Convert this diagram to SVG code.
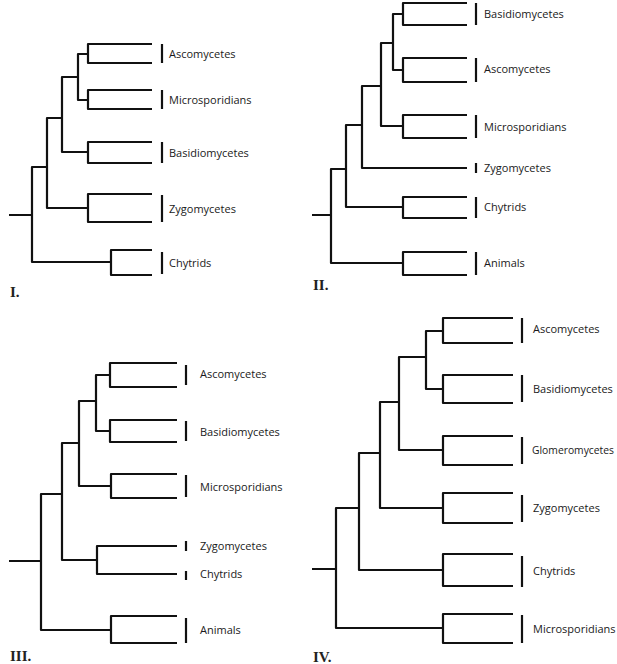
<svg xmlns="http://www.w3.org/2000/svg" width="617" height="664" viewBox="0 0 617 664">
<style>
.e{fill:none;stroke:#111;stroke-width:2.2;stroke-linejoin:round;stroke-linecap:butt}
.b{stroke:#111;stroke-width:2.2}
.t{font-family:"Open Sans","Liberation Sans",sans-serif;font-size:11px;fill:#1a1a1a}
.p{font-family:"Liberation Serif",serif;font-size:15px;font-weight:bold;fill:#222}
</style>
<rect width="617" height="664" fill="#fff"/>
<g id="edges">
<path class="e" d="M152,44H88V63H152M152,90H88V109H152M88,54H78V100H88M152,142H88V163H152M78,77H62V152H88M152,194H88V222H152M62,118H47V208H88M152,250H111V275H152M47,167H32V262H111M9,215H32"/>
<path class="e" d="M467,3H403V25H467M467,58H403V82H467M403,14H393V70H403M467,115H403V138H467M393,43H381V126H403M381,86H362V168H467M467,197H403V218H467M362,125H346V207H403M467,252H403V275H467M346,169H331V263H403M312,215H331"/>
<path class="e" d="M177,363H110V387H177M177,420H110V442H177M110,375H96V431H110M177,474H111V498H177M96,401H79V486H111M177,546H97V574H177M79,443H62V560H97M177,616H111V643H177M62,494H41V630H111M9,561H41"/>
<path class="e" d="M513,318H443V343H513M513,375H443V403H513M443,331H426V389H443M513,436H443V465H513M426,357H399V450H443M513,493H443V523H513M399,402H380V508H443M513,554H443V586H513M380,453H359V570H443M513,614H443V643H513M359,508H336V628H443M312,569H336"/>
</g>
<g id="panel1">
<g id="I-asco"><line class="b" x1="162" y1="44" x2="162" y2="63"/><text class="t" x="169" y="58">Ascomycetes</text></g>
<g id="I-micro"><line class="b" x1="162" y1="90" x2="162" y2="109"/><text class="t" x="169" y="104">Microsporidians</text></g>
<g id="I-basid"><line class="b" x1="162" y1="142" x2="162" y2="163"/><text class="t" x="169" y="157">Basidiomycetes</text></g>
<g id="I-zygo"><line class="b" x1="162" y1="195" x2="162" y2="222"/><text class="t" x="169" y="213">Zygomycetes</text></g>
<g id="I-chyt"><line class="b" x1="162" y1="252" x2="162" y2="274"/><text class="t" x="169" y="267">Chytrids</text></g>
<text class="p" x="10" y="297">I.</text>
</g>
<g id="panel2">
<g id="II-basid"><line class="b" x1="476" y1="3" x2="476" y2="25"/><text class="t" x="484" y="18">Basidiomycetes</text></g>
<g id="II-asco"><line class="b" x1="476" y1="58" x2="476" y2="82"/><text class="t" x="484" y="73">Ascomycetes</text></g>
<g id="II-micro"><line class="b" x1="476" y1="115" x2="476" y2="138"/><text class="t" x="484" y="131">Microsporidians</text></g>
<g id="II-zygo"><line class="b" x1="476" y1="163" x2="476" y2="173"/><text class="t" x="484" y="172">Zygomycetes</text></g>
<g id="II-chyt"><line class="b" x1="476" y1="197" x2="476" y2="218"/><text class="t" x="484" y="211">Chytrids</text></g>
<g id="II-anim"><line class="b" x1="476" y1="252" x2="476" y2="275"/><text class="t" x="484" y="267">Animals</text></g>
<text class="p" x="313" y="290">II.</text>
</g>
<g id="panel3">
<g id="III-asco"><line class="b" x1="186" y1="365" x2="186" y2="385"/><text class="t" x="200" y="378">Ascomycetes</text></g>
<g id="III-basid"><line class="b" x1="186" y1="421" x2="186" y2="441"/><text class="t" x="200" y="436">Basidiomycetes</text></g>
<g id="III-micro"><line class="b" x1="186" y1="475" x2="186" y2="497"/><text class="t" x="200" y="491">Microsporidians</text></g>
<g id="III-zygo"><line class="b" x1="186" y1="541" x2="186" y2="551"/><text class="t" x="200" y="550">Zygomycetes</text></g>
<g id="III-chyt"><line class="b" x1="186" y1="571" x2="186" y2="580"/><text class="t" x="200" y="578">Chytrids</text></g>
<g id="III-anim"><line class="b" x1="186" y1="618" x2="186" y2="643"/><text class="t" x="200" y="634">Animals</text></g>
<text class="p" x="10" y="661">III.</text>
</g>
<g id="panel4">
<g id="IV-asco"><line class="b" x1="522" y1="318" x2="522" y2="343"/><text class="t" x="533" y="333">Ascomycetes</text></g>
<g id="IV-basid"><line class="b" x1="522" y1="375" x2="522" y2="402"/><text class="t" x="533" y="393">Basidiomycetes</text></g>
<g id="IV-glom"><line class="b" x1="522" y1="437" x2="522" y2="464"/><text class="t" x="532" y="454" textLength="82" lengthAdjust="spacingAndGlyphs">Glomeromycetes</text></g>
<g id="IV-zygo"><line class="b" x1="522" y1="495" x2="522" y2="522"/><text class="t" x="533" y="512">Zygomycetes</text></g>
<g id="IV-chyt"><line class="b" x1="522" y1="556" x2="522" y2="587"/><text class="t" x="533" y="575">Chytrids</text></g>
<g id="IV-micro"><line class="b" x1="522" y1="615" x2="522" y2="643"/><text class="t" x="533" y="633">Microsporidians</text></g>
<text class="p" x="313" y="662">IV.</text>
</g>
</svg>
